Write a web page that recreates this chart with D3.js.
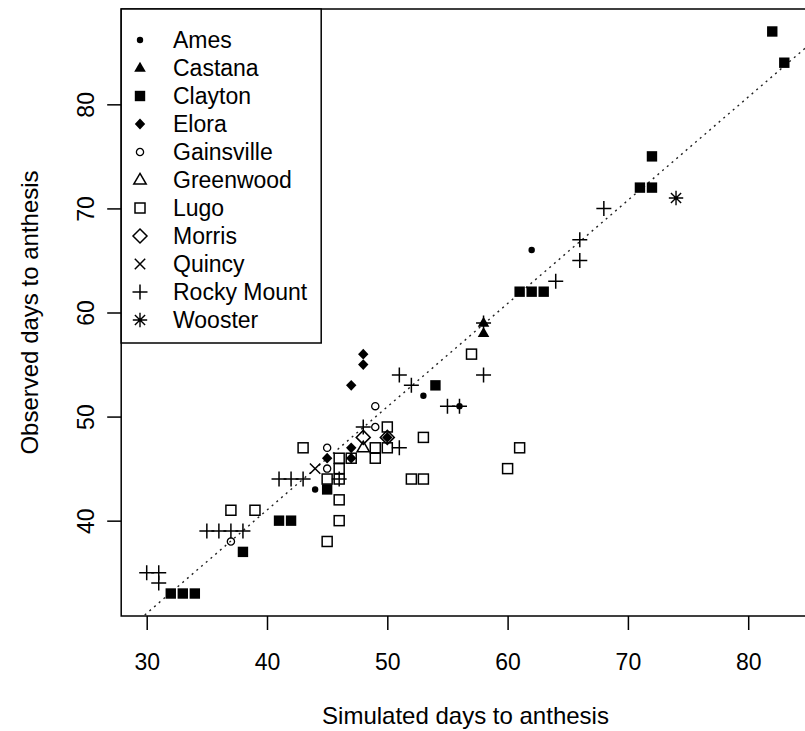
<!DOCTYPE html>
<html>
<head>
<meta charset="utf-8">
<script src="https://cdn.jsdelivr.net/npm/d3@7"></script>
<style>
  body { margin: 0; background: #fff; }
  svg { display: block; }
  text { font-family: "Liberation Sans", Arial, sans-serif; fill: #000; }
</style>
</head>
<body>
<svg id="chart" width="805" height="731"></svg>
<script>
// Simulated vs observed days to anthesis, one [simulated, observed] pair per site-year
const siteNames = ["Ames", "Castana", "Clayton", "Elora", "Gainsville", "Greenwood",
                   "Lugo", "Morris", "Quincy", "Rocky Mount", "Wooster"];

const ames       = [[62, 66], [53, 52], [56, 51], [44, 43]];
const castana    = [[58, 59], [58, 58]];
const clayton    = [[82, 87], [83, 84], [72, 75], [71, 72], [72, 72], [61, 62], [62, 62],
                    [63, 62], [54, 53], [45, 43], [41, 40], [42, 40], [38, 37], [32, 33],
                    [33, 33], [34, 33]];
const elora      = [[48, 56], [48, 55], [47, 53], [47, 47], [47, 46], [45, 46], [50, 48]];
const gainsville = [[49, 51], [49, 49], [45, 47], [45, 45], [37, 38]];
const greenwood  = [[48, 47]];
const lugo       = [[57, 56], [53, 48], [61, 47], [60, 45], [52, 44], [53, 44], [50, 49],
                    [50, 47], [49, 47], [49, 46], [43, 47], [46, 46], [46, 45], [46, 44],
                    [45, 44], [46, 42], [46, 40], [45, 38], [37, 41], [39, 41], [47, 46]];
const morris     = [[48, 48], [50, 48]];
const quincy     = [[44, 45]];
const rockyMount = [[68, 70], [66, 67], [66, 65], [64, 63], [58, 54], [58, 59], [51, 54],
                    [52, 53], [55, 51], [56, 51], [51, 47], [48, 49], [46, 44], [41, 44],
                    [42, 44], [43, 44], [35, 39], [36, 39], [37, 39], [38, 39], [30, 35],
                    [31, 35], [31, 34]];
const wooster    = [[74, 71]];

const xTicks = [30, 40, 50, 60, 70, 80];
const yTicks = [40, 50, 60, 70, 80];

// fitted line: observed = intercept + slope * simulated
const fitIntercept = 1.34;
const fitSlope = 0.992;

const xLabel = "Simulated days to anthesis";
const yLabel = "Observed days to anthesis";

// ---- layout ----
const W = 805, H = 731;
const plot = { left: 121.2, right: 809.8, top: 9, bottom: 616 };

const svg = d3.select("#chart");
svg.append("rect").attr("width", W).attr("height", H).attr("fill", "#fff");

const x = d3.scaleLinear().domain([27.88, 85.12]).range([plot.left, plot.right]);
const y = d3.scaleLinear().domain([30.84, 89.16]).range([plot.bottom, plot.top]);

svg.append("defs").append("clipPath").attr("id", "plotClip")
  .append("rect")
  .attr("x", plot.left).attr("y", plot.top)
  .attr("width", plot.right - plot.left).attr("height", plot.bottom - plot.top);

// ---- marker shapes ----
const SW = 1.5;
const shapes = {
  dot: g => g.append("circle").attr("r", 3.2).attr("fill", "#000"),
  triFill: g => g.append("path").attr("d", "M0,-6.2L5.8,3.8L-5.8,3.8Z").attr("fill", "#000"),
  squareFill: g => g.append("rect").attr("x", -5.2).attr("y", -5.2)
                    .attr("width", 10.4).attr("height", 10.4).attr("fill", "#000"),
  diamondFill: g => g.append("path").attr("d", "M0,-5.4L5.2,0L0,5.4L-5.2,0Z").attr("fill", "#000"),
  circleOpen: g => g.append("circle").attr("r", 3.6).attr("fill", "none")
                    .attr("stroke", "#000").attr("stroke-width", 1.3),
  triOpen: g => g.append("path").attr("d", "M0,-6.6L6.2,4L-6.2,4Z").attr("fill", "none")
                 .attr("stroke", "#000").attr("stroke-width", SW),
  squareOpen: g => g.append("rect").attr("x", -5).attr("y", -5).attr("width", 10).attr("height", 10)
                    .attr("fill", "none").attr("stroke", "#000").attr("stroke-width", SW),
  diamondOpen: g => g.append("path").attr("d", "M0,-7L7,0L0,7L-7,0Z").attr("fill", "none")
                     .attr("stroke", "#000").attr("stroke-width", SW),
  cross: g => g.append("path").attr("d", "M-5.2,-5.2L5.2,5.2M-5.2,5.2L5.2,-5.2").attr("fill", "none")
               .attr("stroke", "#000").attr("stroke-width", SW),
  plus: g => g.append("path").attr("d", "M-7.5,0H7.5M0,-7.5V7.5").attr("fill", "none")
              .attr("stroke", "#000").attr("stroke-width", SW),
  star: g => g.append("path").attr("d", "M-7.2,0H7.2M0,-7.2V7.2M-5.1,-5.1L5.1,5.1M-5.1,5.1L5.1,-5.1")
              .attr("fill", "none").attr("stroke", "#000").attr("stroke-width", 1.4)
};

const series = [
  { name: siteNames[0],  data: ames,       shape: "dot" },
  { name: siteNames[1],  data: castana,    shape: "triFill" },
  { name: siteNames[2],  data: clayton,    shape: "squareFill" },
  { name: siteNames[3],  data: elora,      shape: "diamondFill" },
  { name: siteNames[4],  data: gainsville, shape: "circleOpen" },
  { name: siteNames[5],  data: greenwood,  shape: "triOpen" },
  { name: siteNames[6],  data: lugo,       shape: "squareOpen" },
  { name: siteNames[7],  data: morris,     shape: "diamondOpen" },
  { name: siteNames[8],  data: quincy,     shape: "cross" },
  { name: siteNames[9],  data: rockyMount, shape: "plus" },
  { name: siteNames[10], data: wooster,    shape: "star" }
];

// ---- fitted line (dotted) ----
const xd = x.domain();
svg.append("line")
  .attr("clip-path", "url(#plotClip)")
  .attr("x1", x(xd[0])).attr("y1", y(fitIntercept + fitSlope * xd[0]))
  .attr("x2", x(xd[1])).attr("y2", y(fitIntercept + fitSlope * xd[1]))
  .attr("stroke", "#222").attr("stroke-width", 1.4)
  .attr("stroke-dasharray", "2,4.2");

// ---- points ----
const pts = svg.append("g").attr("clip-path", "url(#plotClip)");
series.forEach(s => {
  pts.selectAll(null).data(s.data).enter().append("g")
    .attr("transform", d => `translate(${x(d[0])},${y(d[1])})`)
    .each(function () { shapes[s.shape](d3.select(this)); });
});

// ---- frame ----
svg.append("rect")
  .attr("x", plot.left).attr("y", plot.top)
  .attr("width", plot.right - plot.left).attr("height", plot.bottom - plot.top)
  .attr("fill", "none").attr("stroke", "#000").attr("stroke-width", 1.5);

// ---- axes ----
const xAxis = svg.append("g")
  .attr("transform", `translate(0,${plot.bottom})`)
  .call(d3.axisBottom(x).tickValues(xTicks).tickSize(14).tickFormat(d3.format("d")));
xAxis.select(".domain").remove();
xAxis.selectAll(".tick line").attr("stroke", "#000").attr("stroke-width", 1.5);
xAxis.selectAll(".tick text")
  .attr("y", 46).attr("dy", "0.35em")
  .attr("font-size", 23).attr("fill", "#000");

const yAxis = svg.append("g")
  .attr("transform", `translate(${plot.left},0)`)
  .call(d3.axisLeft(y).tickValues(yTicks).tickSize(14).tickFormat(d3.format("d")));
yAxis.select(".domain").remove();
yAxis.selectAll(".tick line").attr("stroke", "#000").attr("stroke-width", 1.5);
yAxis.selectAll(".tick text")
  .attr("transform", "rotate(-90)")
  .attr("x", 0).attr("y", -35).attr("dy", "0.35em")
  .attr("text-anchor", "middle")
  .attr("font-size", 23).attr("fill", "#000");

// ---- axis titles ----
svg.append("text")
  .attr("x", (plot.left + plot.right) / 2).attr("y", 716).attr("dy", "0.35em")
  .attr("text-anchor", "middle").attr("font-size", 24)
  .text(xLabel);

svg.append("text")
  .attr("transform", `translate(30,${(plot.top + plot.bottom) / 2}) rotate(-90)`)
  .attr("dy", "0.35em")
  .attr("text-anchor", "middle").attr("font-size", 24)
  .text(yLabel);

// ---- legend ----
const leg = svg.append("g");
leg.append("rect")
  .attr("x", plot.left).attr("y", plot.top)
  .attr("width", 200).attr("height", 334)
  .attr("fill", "#fff").attr("stroke", "#000").attr("stroke-width", 1.5);

const legRow = d3.scalePoint().domain(siteNames).range([40, 320]);
series.forEach(s => {
  const row = leg.append("g").attr("transform", `translate(0,${legRow(s.name)})`);
  shapes[s.shape](row.append("g").attr("transform", "translate(140,0)"));
  row.append("text")
    .attr("x", 173).attr("dy", "0.35em")
    .attr("font-size", 23)
    .text(s.name);
});
</script>
</body>
</html>
